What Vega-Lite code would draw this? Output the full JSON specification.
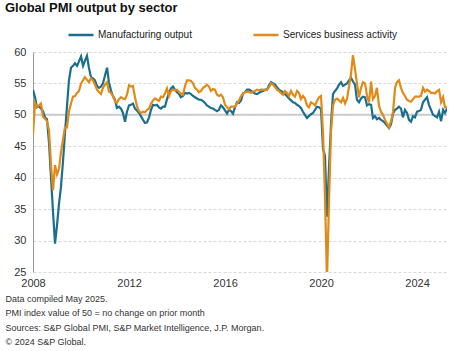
{
"$schema":"https://vega.github.io/schema/vega-lite/v6.json",
"width":414,"height":220,
"autosize":{"type":"none"},
"padding":{"left":33,"top":52,"right":16,"bottom":79},
"background":"white",
"config":{"font":"Liberation Sans","view":{"stroke":null},
"axisY":{"values":[25,30,35,40,45,50,55,60],"title":null,"grid":true,"gridColor":"#d9d9d9","gridDash":[3,2],"domain":true,"domainColor":"#999999","ticks":false,"labelPadding":7,"labelFontSize":11,"labelColor":"#333333","labelOverlap":false},
"axisX":{"grid":false,"domain":false,"ticks":false,"labelPadding":5,"labelFontSize":11,"labelColor":"#333333","labelFlush":false,"labelOverlap":false}},
"title":{"text":"Global PMI output by sector","anchor":"start","frame":"group","dx":-28,"fontSize":13,"fontWeight":"bold","font":"Liberation Sans","color":"#111111","offset":6},
"layer":[
{"data":{"values":[{"ref":50}]},"mark":{"type":"rule","color":"#cccccc","strokeWidth":2},"encoding":{"y":{"field":"ref","type":"quantitative","title":null}}},
{"data":{"values":[
{"d":"2008-01-01","m":54.0,"s":46.8},{"d":"2008-02-01","m":52.8,"s":51.9},{"d":"2008-03-01","m":51.2,"s":51.3},{"d":"2008-04-01","m":51.4,"s":51.5},{"d":"2008-05-01","m":51.0,"s":51.8},{"d":"2008-06-01","m":50.6,"s":49.7},{"d":"2008-07-01","m":49.6,"s":49.4},{"d":"2008-08-01","m":49.3,"s":49.0},{"d":"2008-09-01","m":45.5,"s":47.5},{"d":"2008-10-01","m":40.0,"s":42.0},{"d":"2008-11-01","m":34.5,"s":38.0},{"d":"2008-12-01","m":29.5,"s":42.0},
{"d":"2009-01-01","m":32.5,"s":40.5},{"d":"2009-02-01","m":36.0,"s":41.5},{"d":"2009-03-01","m":38.5,"s":44.0},{"d":"2009-04-01","m":42.5,"s":46.0},{"d":"2009-05-01","m":47.0,"s":48.0},{"d":"2009-06-01","m":51.3,"s":48.0},{"d":"2009-07-01","m":55.5,"s":50.5},{"d":"2009-08-01","m":57.5,"s":51.8},{"d":"2009-09-01","m":57.8,"s":52.9},{"d":"2009-10-01","m":58.2,"s":53.0},{"d":"2009-11-01","m":57.8,"s":53.5},{"d":"2009-12-01","m":58.5,"s":53.8},
{"d":"2010-01-01","m":59.3,"s":55.0},{"d":"2010-02-01","m":57.8,"s":55.5},{"d":"2010-03-01","m":58.6,"s":56.0},{"d":"2010-04-01","m":59.4,"s":55.6},{"d":"2010-05-01","m":57.5,"s":55.2},{"d":"2010-06-01","m":56.0,"s":55.8},{"d":"2010-07-01","m":55.8,"s":55.5},{"d":"2010-08-01","m":55.5,"s":54.8},{"d":"2010-09-01","m":54.6,"s":54.0},{"d":"2010-10-01","m":54.3,"s":53.6},{"d":"2010-11-01","m":54.5,"s":53.3},{"d":"2010-12-01","m":55.0,"s":54.3},
{"d":"2011-01-01","m":56.3,"s":54.8},{"d":"2011-02-01","m":57.5,"s":55.2},{"d":"2011-03-01","m":55.2,"s":53.7},{"d":"2011-04-01","m":53.9,"s":53.5},{"d":"2011-05-01","m":53.0,"s":53.0},{"d":"2011-06-01","m":52.4,"s":52.2},{"d":"2011-07-01","m":51.1,"s":51.9},{"d":"2011-08-01","m":51.3,"s":52.5},{"d":"2011-09-01","m":51.0,"s":52.8},{"d":"2011-10-01","m":50.3,"s":52.6},{"d":"2011-11-01","m":48.9,"s":52.5},{"d":"2011-12-01","m":50.5,"s":53.2},
{"d":"2012-01-01","m":51.5,"s":54.7},{"d":"2012-02-01","m":51.6,"s":54.5},{"d":"2012-03-01","m":51.8,"s":54.6},{"d":"2012-04-01","m":51.0,"s":52.8},{"d":"2012-05-01","m":50.7,"s":51.4},{"d":"2012-06-01","m":50.3,"s":50.6},{"d":"2012-07-01","m":49.8,"s":50.3},{"d":"2012-08-01","m":49.2,"s":50.5},{"d":"2012-09-01","m":48.7,"s":50.4},{"d":"2012-10-01","m":48.8,"s":50.8},{"d":"2012-11-01","m":49.6,"s":51.0},{"d":"2012-12-01","m":50.8,"s":51.8},
{"d":"2013-01-01","m":51.6,"s":52.3},{"d":"2013-02-01","m":51.5,"s":52.6},{"d":"2013-03-01","m":51.6,"s":52.4},{"d":"2013-04-01","m":51.2,"s":52.2},{"d":"2013-05-01","m":51.0,"s":52.9},{"d":"2013-06-01","m":51.3,"s":52.8},{"d":"2013-07-01","m":51.3,"s":53.4},{"d":"2013-08-01","m":52.5,"s":54.2},{"d":"2013-09-01","m":53.5,"s":53.0},{"d":"2013-10-01","m":54.2,"s":53.8},{"d":"2013-11-01","m":54.5,"s":54.0},{"d":"2013-12-01","m":54.0,"s":53.9},
{"d":"2014-01-01","m":53.6,"s":54.0},{"d":"2014-02-01","m":53.3,"s":53.6},{"d":"2014-03-01","m":52.8,"s":53.4},{"d":"2014-04-01","m":53.0,"s":53.2},{"d":"2014-05-01","m":53.5,"s":54.5},{"d":"2014-06-01","m":53.4,"s":55.5},{"d":"2014-07-01","m":53.5,"s":55.5},{"d":"2014-08-01","m":53.3,"s":55.4},{"d":"2014-09-01","m":53.0,"s":55.0},{"d":"2014-10-01","m":52.8,"s":54.3},{"d":"2014-11-01","m":52.6,"s":54.0},{"d":"2014-12-01","m":52.4,"s":53.6},
{"d":"2015-01-01","m":52.4,"s":53.8},{"d":"2015-02-01","m":52.2,"s":54.3},{"d":"2015-03-01","m":51.9,"s":54.5},{"d":"2015-04-01","m":51.5,"s":54.8},{"d":"2015-05-01","m":51.3,"s":54.5},{"d":"2015-06-01","m":51.1,"s":53.8},{"d":"2015-07-01","m":51.0,"s":54.1},{"d":"2015-08-01","m":50.8,"s":54.0},{"d":"2015-09-01","m":50.6,"s":53.2},{"d":"2015-10-01","m":50.8,"s":53.0},{"d":"2015-11-01","m":51.5,"s":53.2},{"d":"2015-12-01","m":51.2,"s":52.8},
{"d":"2016-01-01","m":50.7,"s":51.6},{"d":"2016-02-01","m":50.2,"s":51.2},{"d":"2016-03-01","m":50.8,"s":50.9},{"d":"2016-04-01","m":50.6,"s":51.3},{"d":"2016-05-01","m":50.2,"s":51.3},{"d":"2016-06-01","m":51.2,"s":51.3},{"d":"2016-07-01","m":52.0,"s":51.8},{"d":"2016-08-01","m":51.9,"s":52.3},{"d":"2016-09-01","m":52.3,"s":53.0},{"d":"2016-10-01","m":53.4,"s":53.4},{"d":"2016-11-01","m":53.6,"s":53.6},{"d":"2016-12-01","m":54.0,"s":53.7},
{"d":"2017-01-01","m":54.0,"s":53.6},{"d":"2017-02-01","m":53.8,"s":53.5},{"d":"2017-03-01","m":53.6,"s":53.7},{"d":"2017-04-01","m":53.4,"s":53.8},{"d":"2017-05-01","m":53.3,"s":54.0},{"d":"2017-06-01","m":53.5,"s":53.9},{"d":"2017-07-01","m":53.7,"s":54.0},{"d":"2017-08-01","m":53.8,"s":54.0},{"d":"2017-09-01","m":54.0,"s":53.9},{"d":"2017-10-01","m":54.0,"s":54.0},{"d":"2017-11-01","m":54.7,"s":54.4},{"d":"2017-12-01","m":55.2,"s":55.0},
{"d":"2018-01-01","m":55.0,"s":54.8},{"d":"2018-02-01","m":54.8,"s":54.4},{"d":"2018-03-01","m":54.4,"s":54.0},{"d":"2018-04-01","m":54.0,"s":53.8},{"d":"2018-05-01","m":53.8,"s":53.5},{"d":"2018-06-01","m":53.6,"s":53.2},{"d":"2018-07-01","m":53.3,"s":53.8},{"d":"2018-08-01","m":53.0,"s":53.5},{"d":"2018-09-01","m":52.6,"s":53.0},{"d":"2018-10-01","m":52.3,"s":53.8},{"d":"2018-11-01","m":52.0,"s":53.2},{"d":"2018-12-01","m":51.9,"s":52.9},
{"d":"2019-01-01","m":51.6,"s":53.8},{"d":"2019-02-01","m":51.4,"s":53.5},{"d":"2019-03-01","m":51.1,"s":52.5},{"d":"2019-04-01","m":50.5,"s":53.0},{"d":"2019-05-01","m":50.0,"s":52.6},{"d":"2019-06-01","m":49.5,"s":51.5},{"d":"2019-07-01","m":49.8,"s":51.2},{"d":"2019-08-01","m":50.1,"s":52.0},{"d":"2019-09-01","m":50.3,"s":51.8},{"d":"2019-10-01","m":50.8,"s":51.5},{"d":"2019-11-01","m":51.3,"s":52.2},{"d":"2019-12-01","m":51.2,"s":52.8},
{"d":"2020-01-01","m":50.9,"s":53.0},{"d":"2020-02-01","m":44.5,"s":47.0},{"d":"2020-03-01","m":43.5,"s":37.0},{"d":"2020-04-01","m":33.8,"s":23.7},{"d":"2020-05-01","m":41.5,"s":36.0},{"d":"2020-06-01","m":48.5,"s":47.3},{"d":"2020-07-01","m":53.3,"s":51.5},{"d":"2020-08-01","m":53.8,"s":52.4},{"d":"2020-09-01","m":54.2,"s":52.6},{"d":"2020-10-01","m":54.8,"s":52.3},{"d":"2020-11-01","m":55.2,"s":52.0},{"d":"2020-12-01","m":54.6,"s":52.7},
{"d":"2021-01-01","m":54.8,"s":51.8},{"d":"2021-02-01","m":55.0,"s":52.6},{"d":"2021-03-01","m":55.5,"s":54.5},{"d":"2021-04-01","m":55.9,"s":56.5},{"d":"2021-05-01","m":55.3,"s":59.5},{"d":"2021-06-01","m":54.8,"s":57.3},{"d":"2021-07-01","m":52.4,"s":55.0},{"d":"2021-08-01","m":52.0,"s":52.8},{"d":"2021-09-01","m":52.6,"s":54.3},{"d":"2021-10-01","m":52.9,"s":55.2},{"d":"2021-11-01","m":52.8,"s":55.0},{"d":"2021-12-01","m":51.5,"s":53.0},
{"d":"2022-01-01","m":51.7,"s":52.0},{"d":"2022-02-01","m":51.6,"s":55.3},{"d":"2022-03-01","m":49.5,"s":52.5},{"d":"2022-04-01","m":49.8,"s":53.0},{"d":"2022-05-01","m":49.3,"s":54.3},{"d":"2022-06-01","m":49.5,"s":51.5},{"d":"2022-07-01","m":49.2,"s":50.5},{"d":"2022-08-01","m":49.0,"s":50.0},{"d":"2022-09-01","m":48.7,"s":49.2},{"d":"2022-10-01","m":48.3,"s":48.6},{"d":"2022-11-01","m":47.9,"s":48.0},{"d":"2022-12-01","m":48.5,"s":49.0},
{"d":"2023-01-01","m":50.2,"s":50.5},{"d":"2023-02-01","m":50.8,"s":54.3},{"d":"2023-03-01","m":51.0,"s":55.2},{"d":"2023-04-01","m":51.3,"s":55.5},{"d":"2023-05-01","m":51.0,"s":54.3},{"d":"2023-06-01","m":49.6,"s":53.5},{"d":"2023-07-01","m":50.8,"s":53.0},{"d":"2023-08-01","m":50.3,"s":52.4},{"d":"2023-09-01","m":49.2,"s":52.2},{"d":"2023-10-01","m":48.9,"s":52.1},{"d":"2023-11-01","m":49.8,"s":52.5},{"d":"2023-12-01","m":49.6,"s":52.9},
{"d":"2024-01-01","m":50.5,"s":52.9},{"d":"2024-02-01","m":50.6,"s":52.9},{"d":"2024-03-01","m":50.8,"s":53.0},{"d":"2024-04-01","m":52.0,"s":54.3},{"d":"2024-05-01","m":52.4,"s":53.7},{"d":"2024-06-01","m":52.8,"s":54.0},{"d":"2024-07-01","m":51.6,"s":53.8},{"d":"2024-08-01","m":50.8,"s":53.5},{"d":"2024-09-01","m":50.0,"s":53.5},{"d":"2024-10-01","m":49.8,"s":53.4},{"d":"2024-11-01","m":49.6,"s":53.8},{"d":"2024-12-01","m":50.5,"s":54.0},
{"d":"2025-01-01","m":49.0,"s":52.0},{"d":"2025-02-01","m":50.8,"s":52.8},{"d":"2025-03-01","m":50.3,"s":51.2},{"d":"2025-04-01","m":51.0,"s":51.3}
]},
"transform":[{"fold":["m","s"],"as":["series","value"]}],
"mark":{"type":"line","strokeWidth":2.2,"clip":true},
"encoding":{
"x":{"field":"d","type":"temporal","scale":{"domain":["2008-01-01","2025-04-01"]},
"axis":{"values":["2008-01-01","2012-01-01","2016-01-01","2020-01-01","2024-01-01"],"format":"%Y",
"title":["Data compiled May 2025.","PMI index value of 50 = no change on prior month","Sources: S&P Global PMI, S&P Market Intelligence, J.P. Morgan.","© 2024 S&P Global."],
"titleAnchor":"start","titleAlign":"left","titleBaseline":"top","titleX":-28,"titleY":22,"titleFontSize":9,"titleFontWeight":"normal","titleColor":"#333333","titleLineHeight":14.5}},
"y":{"field":"value","type":"quantitative","scale":{"domain":[25,60],"nice":false,"zero":false},"title":null},
"color":{"field":"series","type":"nominal","scale":{"domain":["m","s"],"range":["#1a6f8f","#e28a17"]},
"legend":{"orient":"none","legendX":34,"legendY":-31,"direction":"horizontal","title":null,"symbolType":"stroke","symbolSize":625,"symbolStrokeWidth":2.5,"labelFontSize":10,"labelColor":"#222222","labelOffset":3,"columnPadding":56,
"labelExpr":"datum.label == 'm' ? 'Manufacturing output' : 'Services business activity'"}}
}}
]
}
